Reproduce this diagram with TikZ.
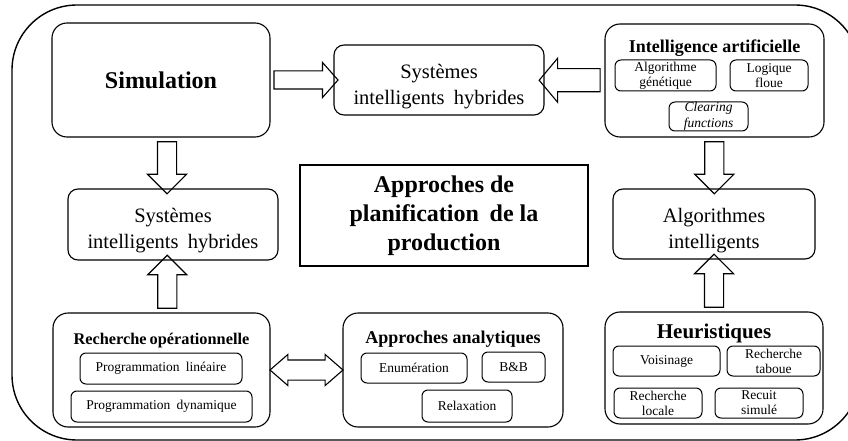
\documentclass[tikz,border=0pt]{standalone}
\usepackage{fontspec}
\setmainfont{Liberation Serif}
\usetikzlibrary{shapes.arrows,calc}

% espace plus large entre les mots, et decalage du texte vers le bas
\newcommand{\esp}{\hspace{0.45em}}
\newcommand{\bas}{\rule{0pt}{27pt}}

\begin{document}
\begin{tikzpicture}[x=1pt,y=-1pt,
    bloc/.style={draw, rounded corners=10pt, line width=1.1pt, inner sep=0pt, align=center,
                 font=\fontsize{20.5}{26}\selectfont},
    souscase/.style={draw, rounded corners=6pt, line width=1pt, inner sep=0pt, align=center,
                 font=\fontsize{13.5}{15}\selectfont},
    entete/.style={inner sep=0pt, anchor=base, font=\bfseries\fontsize{18}{20}\selectfont},
    fleche/.style={draw, single arrow, line width=1.1pt, inner xsep=0pt, inner ysep=9pt,
                 single arrow head extend=10pt, single arrow tip angle=90}]

    \useasboundingbox (0,0) rectangle (848,441);
    \clip (0,0) rectangle (848,441);
    \draw [line width=1.4pt, rounded corners=65pt] (12,5) rectangle (860,440);

    % haut
    \node [bloc, rounded corners=15pt, minimum width=218pt, minimum height=114pt,
           font=\bfseries\fontsize{24}{29}\selectfont] (sim) at (161,80) {Simulation};
    \node [bloc, minimum width=210pt, minimum height=70pt] (sihhaut) at (439,80)
          {\bas Systèmes\\intelligents\esp hybrides};
    \node [bloc, rounded corners=15pt, minimum width=219pt, minimum height=113pt] (ia) at (714.5,80.5) {};
    \node [entete] (iatitre) at (714.5,53) {Intelligence artificielle};
    \node [souscase, minimum width=101pt, minimum height=31pt] (algogen) at (665.5,75.5) {Algorithme\\génétique};
    \node [souscase, minimum width=78pt, minimum height=31pt] (logique) at (769,75.5) {Logique\\floue};
    \node [souscase, minimum width=79pt, minimum height=29pt, font=\itshape\fontsize{13.5}{16}\selectfont]
          (clearing) at (708.5,116.5) {Clearing\\functions};

    % milieu
    \node [bloc, minimum width=210pt, minimum height=71pt] (sihgauche) at (173,224.5)
          {\bas Systèmes\\intelligents\esp hybrides};
    \node [draw, line width=1.1pt, minimum width=288pt, minimum height=101pt, align=center,
           font=\bfseries\fontsize{24}{29}\selectfont] (approches) at (444,215.5)
          {Approches de\\planification\esp de la\\production};
    \node [bloc, minimum width=202pt, minimum height=70pt] (algint) at (714,224)
          {\bas Algorithmes\\intelligents};

    % bas
    \node [bloc, rounded corners=15pt, minimum width=217pt, minimum height=114pt] (ro) at (161.5,370) {};
    \node [entete, font=\bfseries\fontsize{16.3}{20}\selectfont] (rotitre) at (161.5,344) {Recherche\hspace{3pt}opérationnelle};
    \node [souscase, minimum width=162pt, minimum height=31pt] (proglin) at (161,368.5) {Programmation\esp linéaire};
    \node [souscase, minimum width=181pt, minimum height=31pt] (progdyn) at (161.5,406.5) {Programmation\esp dynamique};

    \node [bloc, rounded corners=15pt, minimum width=220pt, minimum height=114pt] (aa) at (453,370) {};
    \node [entete] (aatitre) at (453,343) {Approches analytiques};
    \node [souscase, minimum width=106pt, minimum height=30pt] (enum) at (414,368) {Enumération};
    \node [souscase, minimum width=63pt, minimum height=30pt] (bb) at (513.5,367) {B\&B};
    \node [souscase, minimum width=90pt, minimum height=32pt] (relax) at (467,406) {Relaxation};

    \node [bloc, rounded corners=15pt, minimum width=218pt, minimum height=112pt] (heur) at (714,368) {};
    \node [entete, font=\bfseries\fontsize{21}{24}\selectfont] (heurtitre) at (714,338) {Heuristiques};
    \node [souscase, minimum width=107pt, minimum height=30pt] (voisinage) at (666.5,361) {Voisinage};
    \node [souscase, minimum width=93pt, minimum height=30pt] (taboue) at (773.5,361) {Recherche\\taboue};
    \node [souscase, minimum width=88pt, minimum height=30pt] (locale) at (658,403) {Recherche\\locale};
    \node [souscase, minimum width=88pt, minimum height=30pt] (recuit) at (759,403) {Recuit\\simulé};

    % fleches
    \node [fleche, minimum height=64pt, inner ysep=8.5pt, single arrow head extend=8.5pt,
           single arrow tip angle=97] at ($(sim.east)!0.5!(sihhaut.west)$) {};
    \node [fleche, rotate=180, minimum height=61pt, inner ysep=11pt, single arrow head extend=10.5pt,
           single arrow tip angle=100] at ($(ia.west)!0.5!(sihhaut.east)$) {};
    \node [fleche, rotate=-90, minimum height=52pt] at ($(sim.south)!0.5!(sihgauche.north)$) {};
    \node [fleche, rotate=-90, minimum height=52pt] at ($(ia.south)!0.5!(algint.north)$) {};
    \node [fleche, rotate=90, minimum height=53pt] at ($(ro.north)!0.5!(sihgauche.south)$) {};
    \node [fleche, rotate=90, minimum height=53pt] at ($(heur.north)!0.5!(algint.south)$) {};
    \node [draw, double arrow, line width=1.1pt, inner xsep=0pt, inner ysep=9.5pt, minimum height=73pt,
           double arrow head extend=5.5pt, double arrow tip angle=82]
          at ($(ro.east)!0.5!(aa.west)$) {};
\end{tikzpicture}
\end{document}
